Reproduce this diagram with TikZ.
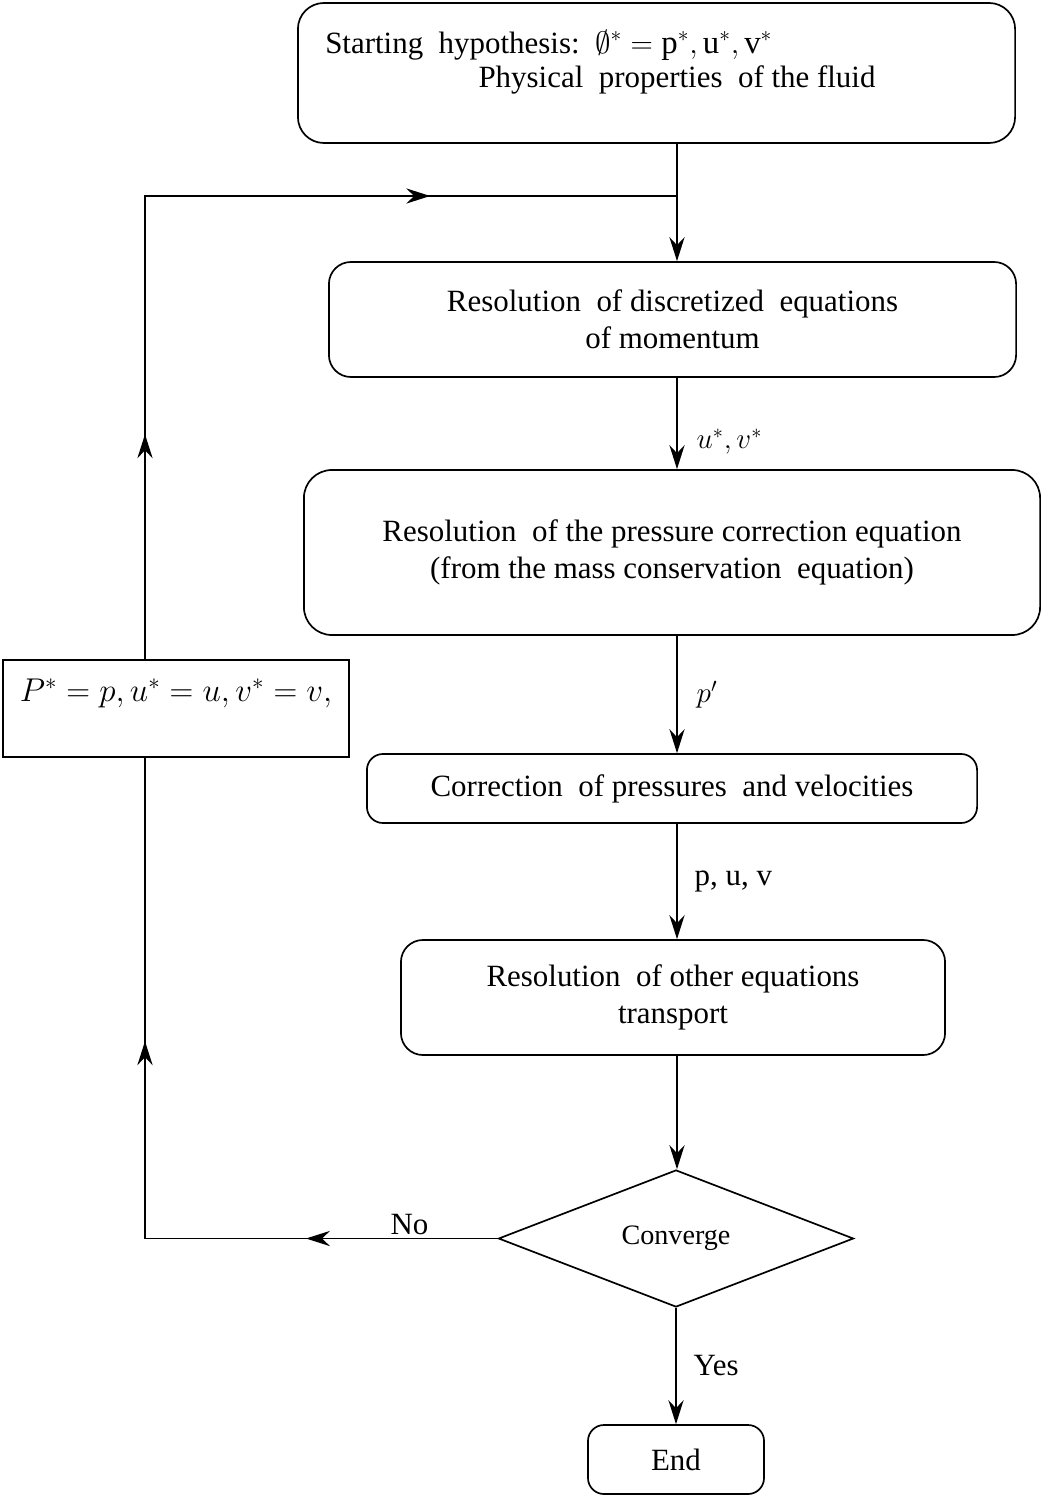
\documentclass[tikz,border=0pt]{standalone}
\usepackage{fontspec}
\setmainfont{Liberation Serif}
\usepackage{amssymb}
\usepackage{graphicx}
\usetikzlibrary{arrows.meta,shapes.geometric,decorations.markings,positioning}

\begin{document}
\begin{tikzpicture}[x=0.025cm,y=-0.025cm,
	every node/.style={font=\fontsize{22}{26.5}\selectfont},
	box/.style={draw,line width=1.2pt,rounded corners=0.55cm,align=center},
	sqbox/.style={draw,line width=1.2pt,align=center},
	decision/.style={draw,diamond,line width=1.2pt,inner sep=0pt},
	flow/.style={line width=1.2pt,-{Stealth[length=6mm,width=3.8mm,inset=2mm]}},
	lbl/.style={inner sep=2pt},
	midarrows/.style 2 args={postaction={decorate},decoration={markings,
		mark=at position #1 with {\arrow{Stealth[length=6mm,width=3.8mm,inset=2mm]}},
		mark=at position #2 with {\arrow{Stealth[length=6mm,width=3.8mm,inset=2mm]}}}}]
	\useasboundingbox (0,0) rectangle (1052,1497);
	\coordinate (axis) at (677,0);
	\coordinate (loopx) at (145,0);
	\coordinate (join) at (677,196);

	% boxes of the main column
	\node[box,minimum width=17.925cm,minimum height=3.5cm,rounded corners=0.65cm] (start) at (656.5,73) {};
	\node[anchor=west,inner sep=0pt] (hypothesis) at (325,45) {Starting\ \ hypothesis:\ \ \scalebox{1.06}{$\emptyset^{*}=\mathrm{p}^{*},\mathrm{u}^{*},\mathrm{v}^{*}$}};
	\node[inner sep=0pt] (properties) at (677,80) {Physical\ \ properties\ \ of the fluid};

	\node[box,minimum width=17.175cm,minimum height=2.875cm] (momentum) at (672.5,319.5) {Resolution\ \ of discretized\ \ equations\\ of momentum};
	\node[box,minimum width=18.4cm,minimum height=4.125cm,rounded corners=0.7cm] (pressure) at (672,552.5) {Resolution\ \ of the pressure correction equation\\ (from the mass conservation\ \ equation)};
	\node[box,minimum width=15.25cm,minimum height=1.725cm,rounded corners=0.4cm] (correction) at (672,788.5) {Correction\ \ of pressures\ \ and velocities};
	\node[box,minimum width=13.6cm,minimum height=2.875cm] (transport) at (673,997.5) {Resolution\ \ of other equations\\ transport};
	\node[decision,minimum width=8.875cm,minimum height=3.425cm] (converge) at (676,1238.5) {\fontsize{20}{24}\selectfont Converge};
	\node[box,minimum width=4.4cm,minimum height=1.725cm,rounded corners=0.4cm] (finish) at (676,1459.5) {End};

	% update box on the left
	\node[sqbox,minimum width=8.65cm,minimum height=2.425cm] (update) at (176,708.5) {\scalebox{1.13}{$P^{*}=p,u^{*}=u,v^{*}=v,$}\\ \mbox{}};

	% main flow
	\draw[line width=1.2pt] (start.south -| axis) -- (join);
	\draw[flow] (join) -- (momentum.north -| axis);
	\draw[flow] (momentum.south -| axis) -- node[lbl,right=0.4cm,pos=0.7] {$u^{*},v^{*}$} (pressure.north -| axis);
	\draw[flow] (pressure.south -| axis) -- node[lbl,right=0.4cm] {$p'$} (correction.north -| axis);
	\draw[flow] (correction.south -| axis) -- node[lbl,right=0.35cm] {p, u, v} (transport.north -| axis);
	\draw[flow] (transport.south -| axis) -- (converge.north -| axis);
	\draw[flow] (converge.south) -- node[lbl,right=0.35cm] {Yes} (finish.north);

	% loop back
	\draw[line width=1.2pt,midarrows={0.23}{0.66}] (converge.west) -| node[lbl,above,pos=0.125] {No} (update.south -| loopx);
	\draw[line width=1.2pt,midarrows={0.226}{0.752}] (update.north -| loopx) |- (join);
\end{tikzpicture}
\end{document}
